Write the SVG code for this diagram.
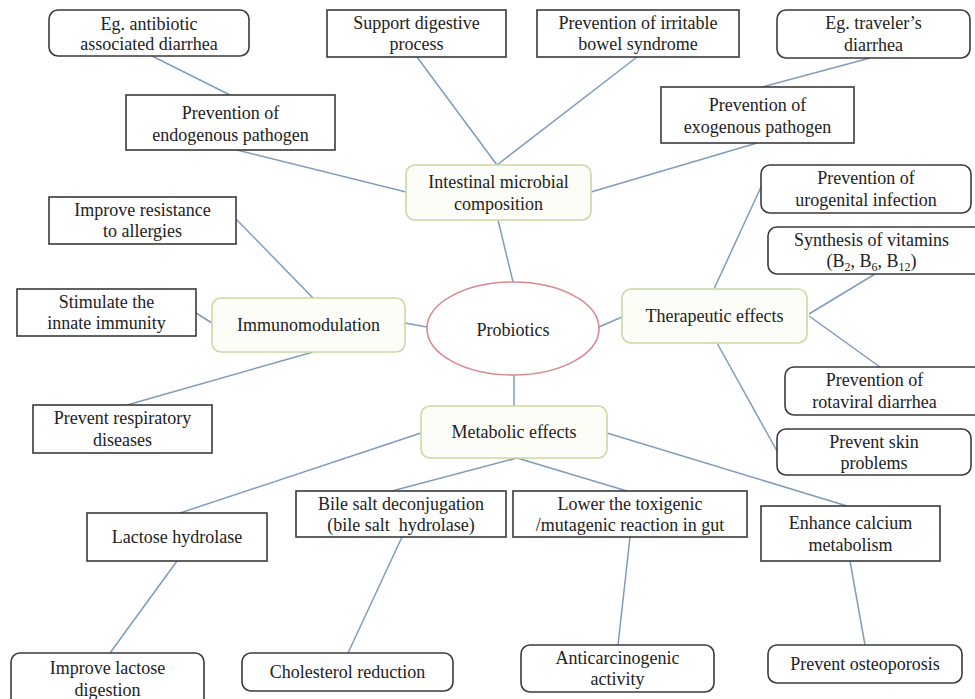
<svg xmlns="http://www.w3.org/2000/svg" width="975" height="699" viewBox="0 0 975 699">
<style>
text{font-family:"Liberation Serif","Times New Roman",serif;font-size:18px;fill:#222;text-anchor:middle}
.b{fill:#fff;stroke:#3a3a3a;stroke-width:1.6}
.g{fill:#fdfdf7;stroke:#c9d9a6;stroke-width:1.6}
.e{fill:#fff;stroke:#d88a8e;stroke-width:1.6}
#edges line{stroke:#7e9cbd;stroke-width:1.5}
.s{font-size:12px}
</style>
<rect width="975" height="699" fill="#fff"/>
<g id="edges">
<line x1="152" y1="56" x2="230" y2="95"/>
<line x1="237" y1="150" x2="406" y2="192"/>
<line x1="417" y1="57" x2="497" y2="165"/>
<line x1="637" y1="57" x2="497" y2="165"/>
<line x1="870" y1="58" x2="762" y2="87"/>
<line x1="757" y1="143" x2="591" y2="192"/>
<line x1="498" y1="220" x2="513" y2="282"/>
<line x1="405" y1="323" x2="427" y2="327"/>
<line x1="599" y1="327" x2="622" y2="317"/>
<line x1="514" y1="375" x2="514" y2="406"/>
<line x1="236" y1="219" x2="313" y2="298"/>
<line x1="196" y1="313" x2="212" y2="323"/>
<line x1="313" y1="352" x2="127" y2="405"/>
<line x1="714" y1="289" x2="761" y2="187"/>
<line x1="809" y1="314" x2="875" y2="274"/>
<line x1="809" y1="316" x2="880" y2="367"/>
<line x1="717" y1="343" x2="777" y2="451"/>
<line x1="421" y1="433" x2="180" y2="513"/>
<line x1="517" y1="458" x2="392" y2="491"/>
<line x1="517" y1="458" x2="627" y2="491"/>
<line x1="607" y1="433" x2="847" y2="506"/>
<line x1="177" y1="561" x2="110" y2="653"/>
<line x1="402" y1="537" x2="348" y2="653"/>
<line x1="630" y1="537" x2="618" y2="645"/>
<line x1="850" y1="561" x2="865" y2="645"/>
</g>
<g id="n1"><rect class="b" x="49" y="10" width="200" height="46" rx="9"/><text x="149" y="30">Eg. antibiotic</text><text x="149" y="50">associated diarrhea</text></g>
<g id="n2"><rect class="b" x="126" y="95" width="209" height="55"/><text x="230.5" y="119">Prevention of</text><text x="230.5" y="141">endogenous pathogen</text></g>
<g id="n3"><rect class="b" x="327" y="10" width="179" height="47"/><text x="416.5" y="29">Support digestive</text><text x="416.5" y="50">process</text></g>
<g id="n4"><rect class="b" x="537" y="10" width="202" height="47"/><text x="638" y="29">Prevention of irritable</text><text x="638" y="50">bowel syndrome</text></g>
<g id="n5"><rect class="b" x="777" y="10" width="193" height="48" rx="9"/><text x="873.5" y="29">Eg. traveler’s</text><text x="873.5" y="51">diarrhea</text></g>
<g id="n6"><rect class="b" x="661" y="87" width="193" height="56"/><text x="757.5" y="111">Prevention of</text><text x="757.5" y="133">exogenous pathogen</text></g>
<g id="n7"><rect class="g" x="406" y="165" width="185" height="55" rx="9"/><text x="498.5" y="188">Intestinal microbial</text><text x="498.5" y="210">composition</text></g>
<g id="n8"><ellipse class="e" cx="513" cy="328.5" rx="86" ry="46.5"/><text x="513" y="336">Probiotics</text></g>
<g id="n9"><rect class="g" x="212" y="298" width="193" height="54" rx="9"/><text x="308.5" y="331">Immunomodulation</text></g>
<g id="n10"><rect class="g" x="622" y="289" width="185" height="54" rx="9"/><text x="714.5" y="322">Therapeutic effects</text></g>
<g id="n11"><rect class="g" x="421" y="406" width="186" height="52" rx="9"/><text x="514" y="438">Metabolic effects</text></g>
<g id="n12"><rect class="b" x="49" y="197" width="187" height="47"/><text x="142.5" y="216">Improve resistance</text><text x="142.5" y="237">to allergies</text></g>
<g id="n13"><rect class="b" x="17" y="289" width="179" height="47"/><text x="106.5" y="308">Stimulate the</text><text x="106.5" y="329">innate immunity</text></g>
<g id="n14"><rect class="b" x="33" y="405" width="179" height="48"/><text x="122.5" y="424">Prevent respiratory</text><text x="122.5" y="446">diseases</text></g>
<g id="n15"><rect class="b" x="761" y="165" width="210" height="48" rx="9"/><text x="866" y="184">Prevention of</text><text x="866" y="206">urogenital infection</text></g>
<g id="n16"><rect class="b" x="768" y="227" width="222" height="47" rx="9"/><text x="871.5" y="246">Synthesis of vitamins</text><text x="871.5" y="267">(B<tspan class="s" dy="4">2</tspan><tspan dy="-4">, B</tspan><tspan class="s" dy="4">6</tspan><tspan dy="-4">, B</tspan><tspan class="s" dy="4">12</tspan><tspan dy="-4">)</tspan></text></g>
<g id="n17"><rect class="b" x="785" y="367" width="205" height="48" rx="9"/><text x="874.5" y="386">Prevention of</text><text x="874.5" y="408">rotaviral diarrhea</text></g>
<g id="n18"><rect class="b" x="777" y="429" width="194" height="46" rx="9"/><text x="874" y="448">Prevent skin</text><text x="874" y="469">problems</text></g>
<g id="n19"><rect class="b" x="87" y="513" width="180" height="48"/><text x="177" y="543">Lactose hydrolase</text></g>
<g id="n20"><rect class="b" x="296" y="491" width="210" height="46"/><text x="401" y="510">Bile salt deconjugation</text><text x="401" y="531">(bile salt&#160; hydrolase)</text></g>
<g id="n21"><rect class="b" x="513" y="491" width="234" height="46"/><text x="630" y="510">Lower the toxigenic</text><text x="630" y="531">/mutagenic reaction in gut</text></g>
<g id="n22"><rect class="b" x="761" y="506" width="179" height="55"/><text x="850.5" y="529">Enhance calcium</text><text x="850.5" y="551">metabolism</text></g>
<g id="n23"><rect class="b" x="11" y="653" width="193" height="57" rx="9"/><text x="107.5" y="674">Improve lactose</text><text x="107.5" y="696">digestion</text></g>
<g id="n24"><rect class="b" x="242" y="653" width="211" height="38" rx="9"/><text x="347.5" y="678">Cholesterol reduction</text></g>
<g id="n25"><rect class="b" x="521" y="645" width="193" height="47" rx="9"/><text x="617.5" y="664">Anticarcinogenic</text><text x="617.5" y="685">activity</text></g>
<g id="n26"><rect class="b" x="768" y="645" width="194" height="38" rx="9"/><text x="865" y="670">Prevent osteoporosis</text></g>
</svg>
